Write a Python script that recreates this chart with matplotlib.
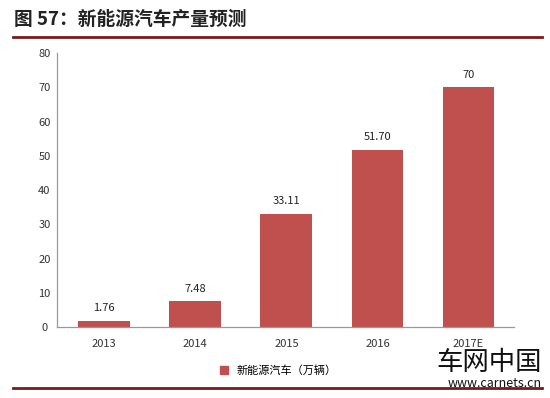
import matplotlib
matplotlib.use("Agg")
from matplotlib import pyplot as plt
from matplotlib.lines import Line2D

plt.rcParams['font.family'] = ['Noto Sans CJK SC', 'DejaVu Sans']

years = ["2013", "2014", "2015", "2016", "2017E"]
output = [1.76, 7.48, 33.11, 51.70, 70]
value_labels = ["1.76", "7.48", "33.11", "51.70", "70"]
series_name = "新能源汽车（万辆）"
title = "图 57：新能源汽车产量预测"

bar_color = "#C0504D"

fig = plt.figure(figsize=(5.5, 3.98), dpi=100)
ax = fig.add_axes([0.1036, 0.1784, 0.831, 0.6884])

x = range(len(years))
ax.bar(x, output, width=0.57, color=bar_color, label=series_name)
for i, v in enumerate(output):
    ax.text(i, v + 2.2, value_labels[i], ha='center', va='bottom', fontsize=8, color='#222222')

ax.set_xlim(-0.52, 4.5)
ax.set_ylim(0, 80)
ax.set_yticks(range(0, 81, 10))
ax.set_xticks(list(x))
ax.set_xticklabels(years)
ax.tick_params(axis='both', length=0, labelsize=8, colors='#333333')
ax.tick_params(axis='x', pad=9)
ax.tick_params(axis='y', pad=9)
for lbl in ax.get_yticklabels():
    lbl.set_horizontalalignment('center')
for s in ['top', 'right']:
    ax.spines[s].set_visible(False)
for s in ['left', 'bottom']:
    ax.spines[s].set_color('#999999')
    ax.spines[s].set_linewidth(0.9)

fig.legend(handles=[Line2D([], [], marker='s', color=bar_color, linestyle='', markersize=6)],
           labels=[series_name], loc='center', bbox_to_anchor=(0.5, 0.07),
           frameon=False, fontsize=8, handletextpad=0.1)

fig.text(0.025, 0.952, title, fontsize=13.5, fontweight='bold', color='#222222', va='center')
fig.add_artist(Line2D([0.024, 0.985], [0.907, 0.907], color='#7B1A1A', linewidth=2))
fig.add_artist(Line2D([0.024, 0.985], [0.025, 0.025], color='#7B1A1A', linewidth=2))

# watermark
fig.text(0.985, 0.088, "车网中国", fontsize=19, color='#111111', va='center', ha='right')
fig.text(0.985, 0.036, "www.carnets.cn", fontsize=9, color='#111111', va='center', ha='right')

fig.savefig("out.png", dpi=100)
